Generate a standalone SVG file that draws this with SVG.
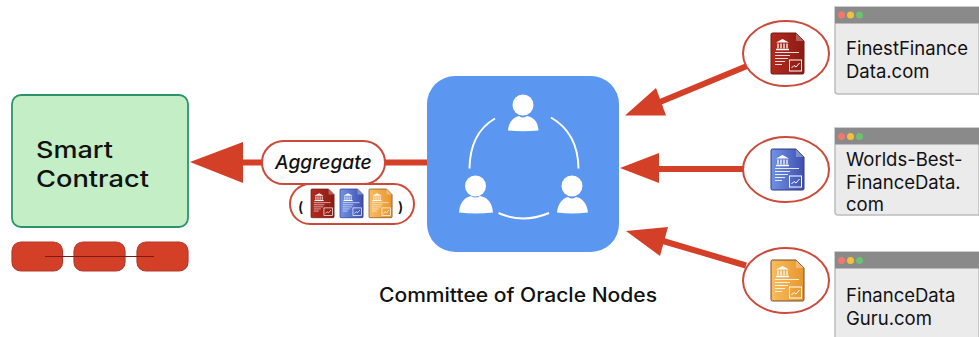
<svg xmlns="http://www.w3.org/2000/svg" width="979" height="337" viewBox="0 0 979 337">
<style>
text{font-family:"Inter","Liberation Sans",sans-serif;fill:#111}
.site{font-size:18.500px}
.pill{fill:#fff;stroke:#cb4a3a;stroke-width:2}
.win{fill:#ebebeb;stroke:#bdbdbd;stroke-width:1.5}
.bar{fill:#8a8a8a}
.wht{fill:#fff}
.ring{fill:none;stroke:#fff;stroke-width:2}
.chain{fill:#d43f28;stroke:#b5382a;stroke-width:1.2}
.conn{stroke:#d43f28;stroke-width:6;fill:none}
.head{fill:#d43f28}
</style>
<defs>
<linearGradient id="gr" x1="0" x2="1"><stop offset="0" stop-color="#b5291d"/><stop offset="1" stop-color="#8c1c14"/></linearGradient>
<linearGradient id="gb" x1="0" x2="1"><stop offset="0" stop-color="#6f93e8"/><stop offset="1" stop-color="#3f50ae"/></linearGradient>
<linearGradient id="go" x1="0" x2="1"><stop offset="0" stop-color="#f8bd60"/><stop offset="1" stop-color="#e8962c"/></linearGradient>
<g id="marks" fill="none" stroke="#fff">
<path d="M5 9.500 11.500 6 18 9.500Z" fill="#fff" stroke="none"/>
<path d="M7 10.500v5M10 10.500v5M13 10.500v5M16 10.500v5" stroke-width="1.3"/>
<path d="M5 16.500h13" stroke-width="1.5"/>
<path d="M4 19.500h24M4 22.500h15M4 25.500h13M4 28.500h10M4 31.500h7" stroke-width="1" opacity=".85"/>
<rect x="18.500" y="27" width="12" height="11" stroke-width="1"/>
<path d="M20.500 35 23 32.500 25 34 28.500 30" stroke-width="1"/>
<path d="M25 0V8H33" stroke="none" fill="#fff" fill-opacity=".3"/>
</g>
<path id="sheet" d="M1.500 0H25L33 8V39.500Q33 41 31.500 41H1.500Q0 41 0 39.500V1.500Q0 0 1.500 0Z"/>
</defs>

<g id="connectors">
<path class="conn" d="M385 162.500H427M242 162.500H262"/>
<path class="head" d="M190 162 243 142V183Z"/>
<path class="conn" d="M747 66 660 102"/>
<path class="head" d="M625 115.500 656 88 666 115.500Z"/>
<path class="conn" d="M743 169H658"/>
<path class="head" d="M620 168 659 153V183Z"/>
<path class="conn" d="M746 265.500 663 241"/>
<path class="head" d="M626 231 668 227 660 256Z"/>
</g>

<g id="smart-contract">
<rect x="12" y="95" width="176" height="132" rx="9" fill="#c4eec5" stroke="#2a9468" stroke-width="1.800"/>
<text x="36" y="158" font-size="23.500" font-weight="500" textLength="77" lengthAdjust="spacingAndGlyphs">Smart</text>
<text x="36" y="186.500" font-size="23.500" font-weight="500" textLength="113" lengthAdjust="spacingAndGlyphs">Contract</text>
</g>

<g id="chain">
<rect class="chain" x="12" y="242" width="50.500" height="29" rx="9"/>
<rect class="chain" x="74" y="242" width="51" height="29" rx="9"/>
<rect class="chain" x="137" y="242" width="51" height="29" rx="9"/>
<path d="M45 256.500H154" stroke="#7d1a12" stroke-width="1.200"/>
</g>

<g id="aggregate">
<rect class="pill" x="262" y="141" width="123" height="43" rx="21.500"/>
<text x="275" y="169" font-size="19.200" font-weight="500" font-style="italic">Aggregate</text>
</g>

<g id="aggregate-docs">
<rect class="pill" x="290" y="184" width="124" height="40" rx="20"/>
<text x="298" y="212" font-size="14" font-weight="600">(</text>
<text x="398" y="212" font-size="14" font-weight="600">)</text>
<g transform="translate(311 189) scale(.7)"><use href="#sheet" fill="url(#gr)" stroke="#6e1a14"/><use href="#marks"/></g>
<g transform="translate(340 189) scale(.7)"><use href="#sheet" fill="url(#gb)" stroke="#33397a"/><use href="#marks"/></g>
<g transform="translate(369 189) scale(.7)"><use href="#sheet" fill="url(#go)" stroke="#7a4a28"/><use href="#marks"/></g>
</g>

<g id="committee">
<rect x="427" y="76" width="192" height="176" rx="28" fill="#5b97f0"/>
<circle class="wht" cx="523" cy="105" r="10.500"/>
<path class="wht" d="M508 130.500C509 120 515 117 519 116Q523 119 527 116C532 117 538 120 538.500 130.500Q523 132 508 130.500Z"/>
<circle class="wht" cx="475.500" cy="186" r="10.500"/>
<path class="wht" d="M459 212.500C460 200 467 197 471 196Q475.500 199 480 196C485 197 492 200 493 212.500Q476 214.500 459 212.500Z"/>
<circle class="wht" cx="572" cy="186" r="10.500"/>
<path class="wht" d="M557 212.500C558 202 564 198 568 197Q572 200 576 197C581 198 587 202 588 212.500Q572 214.500 557 212.500Z"/>
<path class="ring" d="M495 118.500Q470 133 469.500 168.500"/>
<path class="ring" d="M551 117.500Q578 133 578.500 168.500"/>
<path class="ring" d="M498.500 213Q523 224 549 213"/>
<text x="379" y="302" font-size="19.500" font-weight="500" textLength="278" lengthAdjust="spacingAndGlyphs">Committee of Oracle Nodes</text>
</g>

<g id="source-1">
<ellipse class="pill" cx="786" cy="53.500" rx="43" ry="32.500"/>
<g transform="translate(771 33)"><use href="#sheet" fill="url(#gr)" stroke="#6e1a14"/><use href="#marks"/></g>
<path class="win" d="M979 94H838Q835 94 835 91V7H979Z"/>
<rect class="bar" x="835" y="7" width="144" height="16.500"/>
<circle cx="841.500" cy="15" r="3.500" fill="#f2786e"/><circle cx="850.500" cy="15" r="3.500" fill="#f4bf3d"/><circle cx="859.500" cy="15" r="3.500" fill="#6cc26f"/>
<text class="site" x="846" y="55">FinestFinance</text>
<text class="site" x="846" y="78">Data.com</text>
</g>

<g id="source-2">
<ellipse class="pill" cx="786" cy="169.500" rx="43" ry="32.500"/>
<g transform="translate(771 149)"><use href="#sheet" fill="url(#gb)" stroke="#33397a"/><use href="#marks"/></g>
<path class="win" d="M979 215H838Q835 215 835 212V128H979Z"/>
<rect class="bar" x="835" y="128" width="144" height="16.500"/>
<circle cx="841.500" cy="136.500" r="3.500" fill="#f2786e"/><circle cx="850.500" cy="136.500" r="3.500" fill="#f4bf3d"/><circle cx="859.500" cy="136.500" r="3.500" fill="#6cc26f"/>
<text class="site" x="846" y="166">Worlds-Best-</text>
<text class="site" x="846" y="189">FinanceData.</text>
<text class="site" x="846" y="211">com</text>
</g>

<g id="source-3">
<ellipse class="pill" cx="786" cy="280.500" rx="43" ry="32.500"/>
<g transform="translate(771 260)"><use href="#sheet" fill="url(#go)" stroke="#7a4a28"/><use href="#marks"/></g>
<path class="win" d="M979 338H835V252H979Z"/>
<rect class="bar" x="835" y="252" width="144" height="16.500"/>
<circle cx="841.500" cy="260.500" r="3.500" fill="#f2786e"/><circle cx="850.500" cy="260.500" r="3.500" fill="#f4bf3d"/><circle cx="859.500" cy="260.500" r="3.500" fill="#6cc26f"/>
<text class="site" x="846" y="302">FinanceData</text>
<text class="site" x="846" y="325">Guru.com</text>
</g>
</svg>
